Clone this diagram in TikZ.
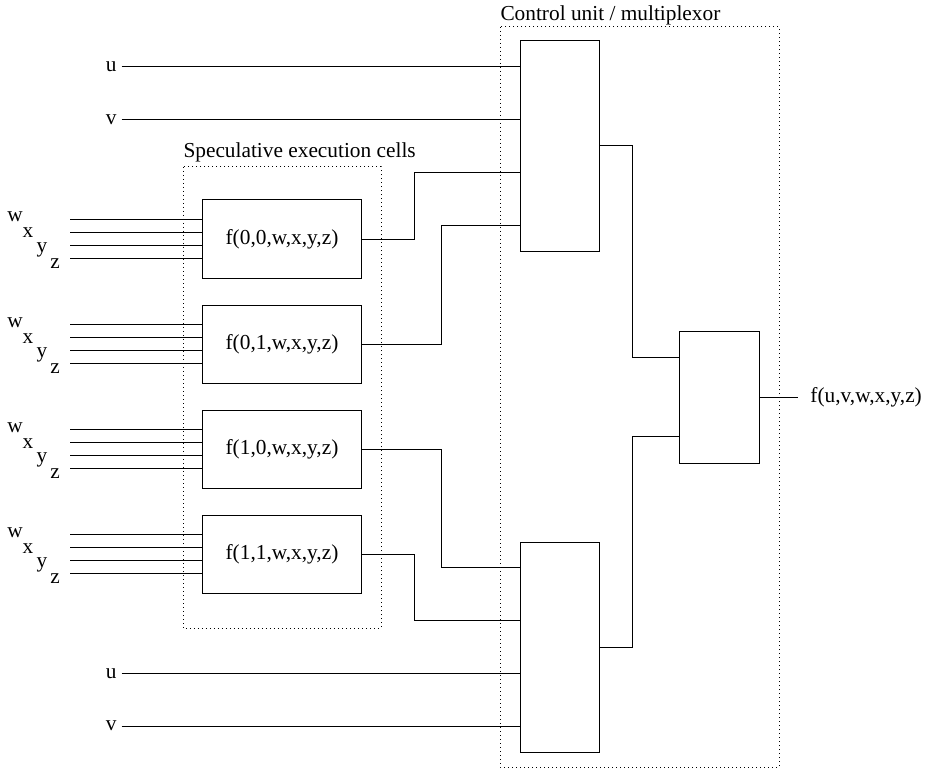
\documentclass[tikz,border=0pt]{standalone}
\usepackage{fontspec}
\setmainfont{Liberation Serif}
\usetikzlibrary{calc}

\begin{document}
\begin{tikzpicture}[x=0.75pt,y=-0.75pt,line width=0.75pt,
    font=\fontsize{16}{19}\selectfont,
    cell/.style={draw,rectangle,minimum width=119.25pt,minimum height=58.5pt,inner sep=0pt},
    mux/.style={draw,rectangle,minimum width=59.25pt,minimum height=157.5pt,inner sep=0pt},
    frame/.style={dash pattern=on 0.6pt off 2.4pt},
    lbl/.style={anchor=base,inner sep=0pt}]
  \useasboundingbox (0,0) rectangle (928,770);

  % speculative cells with their inputs
  \foreach \a/\b/\yy in {0/0/239,0/1/344,1/0/449,1/1/554}
  { \node[cell] (c\a\b) at (282,\yy) {f(\a,\b,w,x,y,z)};
    \foreach \dy [count=\k] in {-19.5,-6.5,6.5,19.5}
    { \coordinate (c\a\b-in\k) at ($(c\a\b.west)+(-132,\dy)$);
      \draw (c\a\b-in\k) -- (c\a\b-in\k -| c\a\b.west); }
    \foreach \lt/\dx/\dy in {w/-187/-17,x/-174/-1,y/-160/13,z/-147/29}
      \node[lbl] (c\a\b-\lt) at ($(c\a\b.west)+(\dx,\dy)$) {\lt};
  }

  % multiplexors
  \node[mux] (mux1) at (559.5,146) {};
  \node[mux] (mux2) at (559.5,647) {};
  \node[mux,minimum width=60pt,minimum height=99pt] (mux3) at (719,397) {};
  \foreach \m in {1,2}
    \foreach \k in {1,...,4}
      \coordinate (mux\m-in\k) at ($(mux\m.north west)!{(\k-0.5)/4}!(mux\m.south west)$);
  \coordinate (mux3-in1) at ($(mux3.north west)!0.2!(mux3.south west)$);
  \coordinate (mux3-in2) at ($(mux3.north west)!0.8!(mux3.south west)$);

  % u and v
  \path (mux1-in1) ++(-398,0) node[anchor=east] (u1) {u};
  \path (mux1-in2) ++(-398,0) node[anchor=east] (v1) {v};
  \path (mux2-in3) ++(-398,0) node[anchor=east] (u2) {u};
  \path (mux2-in4) ++(-398,0) node[anchor=east] (v2) {v};
  \draw (u1) -- (mux1-in1);
  \draw (v1) -- (mux1-in2);
  \draw (u2) -- (mux2-in3);
  \draw (v2) -- (mux2-in4);

  \draw (c00.east) -- ++(52,0) |- (mux1-in3);
  \draw (c01.east) -- ++(79,0) |- (mux1-in4);
  \draw (c10.east) -- ++(79,0) |- (mux2-in1);
  \draw (c11.east) -- ++(52,0) |- (mux2-in2);
  \draw (mux1.east) -- ++(33,0) |- (mux3-in1);
  \draw (mux2.east) -- ++(33,0) |- (mux3-in2);

  \coordinate (out) at ($(mux3.east)+(38,0)$);
  \draw (mux3.east) -- (out);
  \node[anchor=west] (fout) at ($(out)+(8,0)$) {f(u,v,w,x,y,z)};

  % dotted groups
  \draw[frame] (183,167) rectangle (381,628);
  \node[anchor=base west,inner sep=0pt] (speclbl) at (183,158) {Speculative execution cells};
  \draw[frame] (500,27) rectangle (779,767);
  \node[anchor=base west,inner sep=0pt] (ctrllbl) at (500,21) {Control unit / multiplexor};
\end{tikzpicture}
\end{document}
